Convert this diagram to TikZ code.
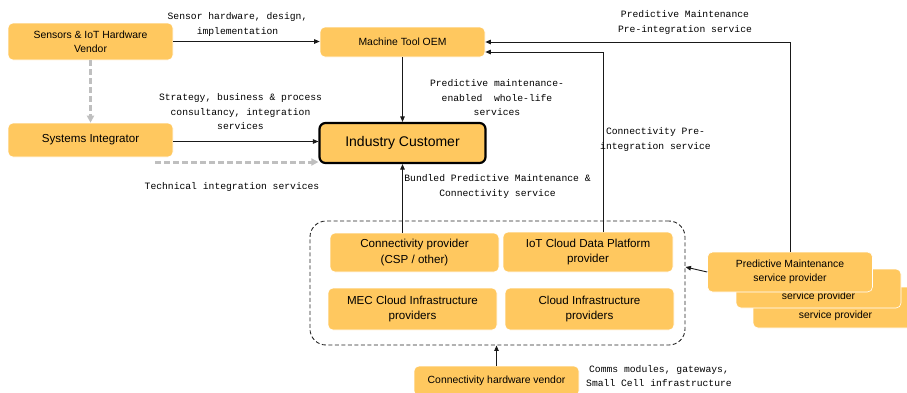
\documentclass[tikz,border=0pt]{standalone}
\usepackage{fontspec}
\setmainfont{Liberation Sans}
\setsansfont{Liberation Sans}
\setmonofont{Liberation Mono}
\usetikzlibrary{arrows.meta}
\definecolor{boxfill}{HTML}{FFC85F}
\definecolor{graydash}{HTML}{BFBFBF}
\newcommand{\fsz}[2]{\fontsize{#1}{#2}\selectfont}
\begin{document}
\begin{tikzpicture}[x=1pt,y=-1pt,
  box/.style={fill=boxfill, draw=white, line width=0.6pt, rounded corners=5pt, align=center, inner sep=0pt, font=\fsz{10.4}{14}},
  bigbox/.style={box, font=\fsz{11.6}{15.5}},
  grpbox/.style={draw=black!85, line width=0.9pt, dash pattern=on 4pt off 2.5pt, rounded corners=16pt, inner sep=0pt},
  arr/.style={draw=black!90, line width=0.9pt, -{Triangle[length=5.5pt,width=4.5pt]}},
  garr/.style={draw=graydash, line width=3pt, dash pattern=on 6pt off 3pt, -{Triangle[length=7pt,width=7pt]}},
  lbl/.style={font=\ttfamily\fsz{9.7}{14.5}, text=black, align=center, inner sep=0pt}
]
\useasboundingbox (0,0) rectangle (907,392);

% group container
\node[grpbox, minimum width=375pt, minimum height=124pt] (grp) at (497.5,283) {};

% main boxes
\node[box, minimum width=165pt, minimum height=37pt] (sens) at (90.5,41.5) {Sensors \& IoT Hardware\\Vendor};
\node[box, minimum width=165pt, minimum height=30pt] (oem) at (402.5,42) {Machine Tool OEM};
\node[bigbox, minimum width=165pt, minimum height=34pt] (si) at (90.5,140) {Systems Integrator};
\node[box, draw=black, line width=2.2pt, rounded corners=6pt, font=\fsz{14}{17}, minimum width=166pt, minimum height=40pt] (cust) at (402.5,143) {Industry Customer};

\node[bigbox, minimum width=169pt, minimum height=39pt] (conn) at (414.5,252.5) {Connectivity provider\\(CSP / other)};
\node[bigbox, minimum width=170pt, minimum height=40pt] (iot) at (588,252) {IoT Cloud Data Platform\\provider};
\node[bigbox, minimum width=169pt, minimum height=42pt] (mec) at (412.5,309) {MEC Cloud Infrastructure\\providers};
\node[bigbox, minimum width=169pt, minimum height=42pt] (cloud) at (589.5,309) {Cloud Infrastructure\\providers};

\node[box, minimum width=165pt, minimum height=30pt] (hw) at (496.5,381) {Connectivity hardware vendor};

% PdM stack
\node[box, minimum width=165pt, minimum height=41pt] (pdm3) at (835.5,307.5) {\strut\\service provider};
\node[box, minimum width=165pt, minimum height=39pt] (pdm2) at (818.5,288.5) {\strut\\service provider};
\node[box, minimum width=165pt, minimum height=40pt] (pdm) at (790,272) {Predictive Maintenance\\service provider};

% connectors
\draw[arr] (sens.east) -- (sens.east -| oem.west);
\draw[garr] (sens.south) -- (si.north);
\draw[arr] ([yshift=-1.5pt]si.east) -- ([yshift=-1.5pt]si.east -| cust.west);
\coordinate (gstart) at (155,162);
\draw[garr] (gstart) -- (gstart -| cust.west);
\draw[arr] (oem.south) -- (cust.north);
\draw[arr] (conn.north -| cust.south) -- (cust.south);
\draw[arr] ([xshift=15pt]iot.north) |- ([yshift=-10pt]oem.east);
\draw[arr] (pdm.north) |- (oem.east);
\draw[arr] (pdm.west) -- ([yshift=16pt]grp.east);
\draw[arr] (hw.north) -- (hw.north |- grp.south);

% labels
\node[lbl] (l1) at (237.5,24.5) {Sensor hardware, design,\\implementation};
\node[lbl] (l2) at (240.5,112) {Strategy, business \& process\\consultancy, integration\\services};
\node[lbl] (l3) at (232,187) {Technical integration services};
\node[lbl] (l4) at (497,98) {Predictive maintenance-\\enabled\ \ whole-life\\services};
\node[lbl] (l5) at (497.5,186.5) {Bundled Predictive Maintenance \&\\Connectivity service};
\node[lbl] (l6) at (655.5,139.5) {Connectivity Pre-\\integration service};
\node[lbl] (l7) at (685,22.5) {Predictive Maintenance\\Pre-integration service};
\node[lbl] (l8) at (659,376) {Comms modules, gateways,\\Small Cell infrastructure};
\end{tikzpicture}
\end{document}
